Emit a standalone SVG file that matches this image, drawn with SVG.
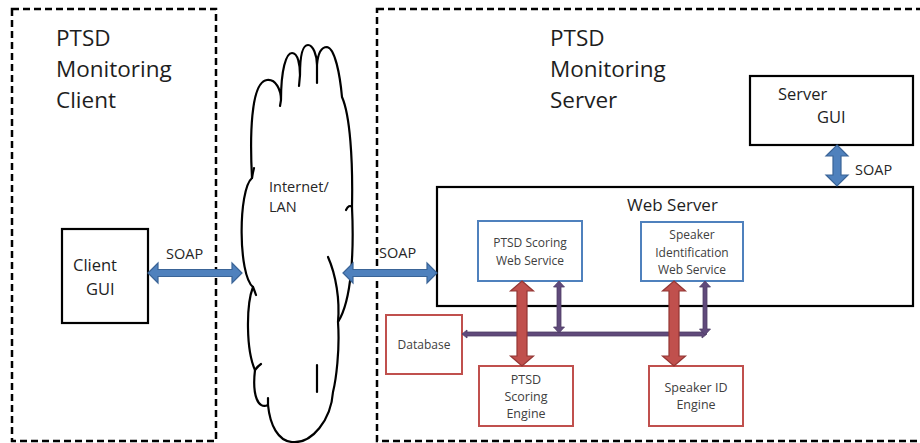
<svg xmlns="http://www.w3.org/2000/svg" width="920" height="443" viewBox="0 0 920 443">
  <style>
    .zone { fill: none; stroke: #000; stroke-width: 2.5; stroke-dasharray: 7 4; }
    .box { fill: #fff; stroke: #000; stroke-width: 2.2; }
    .svc { fill: #fff; stroke: #4f81bd; stroke-width: 2; }
    .eng { fill: #fff; stroke: #c0504d; stroke-width: 2; }
    .cloud { fill: #fff; stroke: #000; stroke-width: 2.2; stroke-linejoin: round; stroke-linecap: round; }
    .tail { fill: none; stroke: #000; stroke-width: 2.2; stroke-linecap: round; }
    .title { font-family: "Open Sans", "Liberation Sans", sans-serif; font-size: 22.5px; fill: #1e1e1e; }
    .mid { font-family: "Open Sans", "Liberation Sans", sans-serif; font-size: 16.5px; fill: #1e1e1e; }
    .lbl { font-family: "Open Sans", "Liberation Sans", sans-serif; font-size: 14.5px; fill: #262626; }
    .small { font-family: "Open Sans", "Liberation Sans", sans-serif; font-size: 12px; fill: #404040; text-anchor: middle; }
    .blue { fill: #4f81bd; stroke: #3a6497; stroke-width: 1.2; }
    .red { fill: #c0504d; stroke: #943634; stroke-width: 1.2; }
    .purple { fill: #604a7b; stroke: #4f3d66; stroke-width: 0.8; }
  </style>

  <!-- client and server zones -->
  <g id="client-zone">
    <rect class="zone" x="12" y="9" width="204" height="432"/>
    <text class="title" x="56" y="46">PTSD</text>
    <text class="title" x="56" y="77">Monitoring</text>
    <text class="title" x="56" y="108">Client</text>
  </g>
  <g id="server-zone">
    <rect class="zone" x="377" y="9" width="560" height="432"/>
    <text class="title" x="550" y="46">PTSD</text>
    <text class="title" x="550" y="77">Monitoring</text>
    <text class="title" x="550" y="108">Server</text>
  </g>

  <!-- network cloud -->
  <g id="internet">
    <path class="cloud" d="M 253,287
      C 238,275 238,190 252,178
      C 250,140 250,82 267,80
      C 276,79 281,90 281,100
      C 281,70 286,53 292,53
      C 298,53 300,65 300,75
      C 300,55 303,45 308,45
      C 313,45 317,55 317,65
      C 318,52 322,47 327,47
      C 335,48 340,75 342,97
      C 350,115 353,160 352,207
      C 354,250 352,300 338,322
      C 340,350 336,380 333,392
      C 331,420 312,444 292,442
      C 278,441 270,425 268,405
      C 258,410 252,395 255,370
      C 246,350 246,305 253,287 Z"/>
    <path class="tail" d="M 281,100 L 280,106"/>
    <path class="tail" d="M 300,75 L 299,86"/>
    <path class="tail" d="M 317,65 L 317,83"/>
    <path class="tail" d="M 252,178 Q 253,172 254,168"/>
    <path class="tail" d="M 352,207 Q 349,204 346,210"/>
    <path class="tail" d="M 328,257 C 336,275 340,300 338,322"/>
    <path class="tail" d="M 253,287 Q 255,292 256,295"/>
    <path class="tail" d="M 255,370 Q 258,366 261,364"/>
    <path class="tail" d="M 317,365 L 317,392"/>
    <path class="tail" d="M 268,405 L 268,398"/>
    <text class="lbl" x="269" y="192">Internet/</text>
    <text class="lbl" x="269" y="212">LAN</text>
  </g>

  <!-- nodes -->
  <g id="client-gui">
    <rect class="box" x="62" y="229" width="86" height="94"/>
    <text class="mid" x="73" y="271">Client</text>
    <text class="mid" x="86" y="295">GUI</text>
  </g>
  <g id="server-gui">
    <rect class="box" x="750" y="76" width="163" height="69"/>
    <text class="mid" x="778" y="100">Server</text>
    <text class="mid" x="817" y="123">GUI</text>
  </g>
  <g id="web-server">
    <rect class="box" x="437" y="187" width="476" height="119"/>
    <text class="mid" x="627" y="211" style="font-size:17px">Web Server</text>
  </g>
  <g id="ptsd-scoring-ws">
    <rect class="svc" x="478" y="221" width="104" height="60"/>
    <text class="small" x="530" y="247">PTSD Scoring</text>
    <text class="small" x="530" y="265">Web Service</text>
  </g>
  <g id="speaker-id-ws">
    <rect class="svc" x="641" y="222" width="102" height="59"/>
    <text class="small" x="692" y="239">Speaker</text>
    <text class="small" x="692" y="257">Identification</text>
    <text class="small" x="692" y="274">Web Service</text>
  </g>
  <g id="database">
    <rect class="eng" x="386" y="315" width="76" height="59"/>
    <text class="small" x="424" y="349">Database</text>
  </g>
  <g id="ptsd-scoring-engine">
    <rect class="eng" x="479" y="366" width="94" height="60"/>
    <text class="small" x="526" y="384" style="font-size:12.5px">PTSD</text>
    <text class="small" x="526" y="401" style="font-size:12.5px">Scoring</text>
    <text class="small" x="526" y="418" style="font-size:12.5px">Engine</text>
  </g>
  <g id="speaker-id-engine">
    <rect class="eng" x="649" y="366" width="94" height="60"/>
    <text class="small" x="696" y="392" style="font-size:12.5px">Speaker ID</text>
    <text class="small" x="696" y="409" style="font-size:12.5px">Engine</text>
  </g>

  <!-- connectors -->
  <g id="connectors">
    <!-- SOAP: client GUI to cloud -->
    <polygon class="blue" points="148,273 158,263 158,269.5 232,269.5 232,263 242,273 232,283 232,276.5 158,276.5 158,283"/>
    <text class="lbl" x="166" y="259">SOAP</text>
    <!-- SOAP: cloud to web server -->
    <polygon class="blue" points="343,273 353,263 353,269.5 427,269.5 427,263 437,273 427,283 427,276.5 353,276.5 353,283"/>
    <text class="lbl" x="379" y="258">SOAP</text>
    <!-- SOAP: server GUI to web server -->
    <polygon class="blue" points="837,145 848,156 841,156 841,175 848,175 837,186 826,175 833,175 833,156 826,156"/>
    <text class="lbl" x="855" y="175">SOAP</text>

    <!-- database bus -->
    <polygon class="purple" points="462,334 467,330 467,332 702,332 702,330 707,334 702,338 702,336 467,336 467,338"/>
    <!-- service to bus -->
    <polygon class="purple" points="559,281 564.5,287 561,287 561,327 564.5,327 559,333 553.5,327 557,327 557,287 553.5,287"/>
    <polygon class="purple" points="705,281 710.5,287 707,287 707,329 710.5,329 705,335 699.5,329 703,329 703,287 699.5,287"/>

    <!-- service to engine -->
    <polygon class="red" points="522,281 533.5,291 527,291 527,356 533.5,356 522,366 510.5,356 517,356 517,291 510.5,291"/>
    <polygon class="red" points="674,281 685.5,291 679,291 679,356 685.5,356 674,366 662.5,356 669,356 669,291 662.5,291"/>
  </g>
</svg>
